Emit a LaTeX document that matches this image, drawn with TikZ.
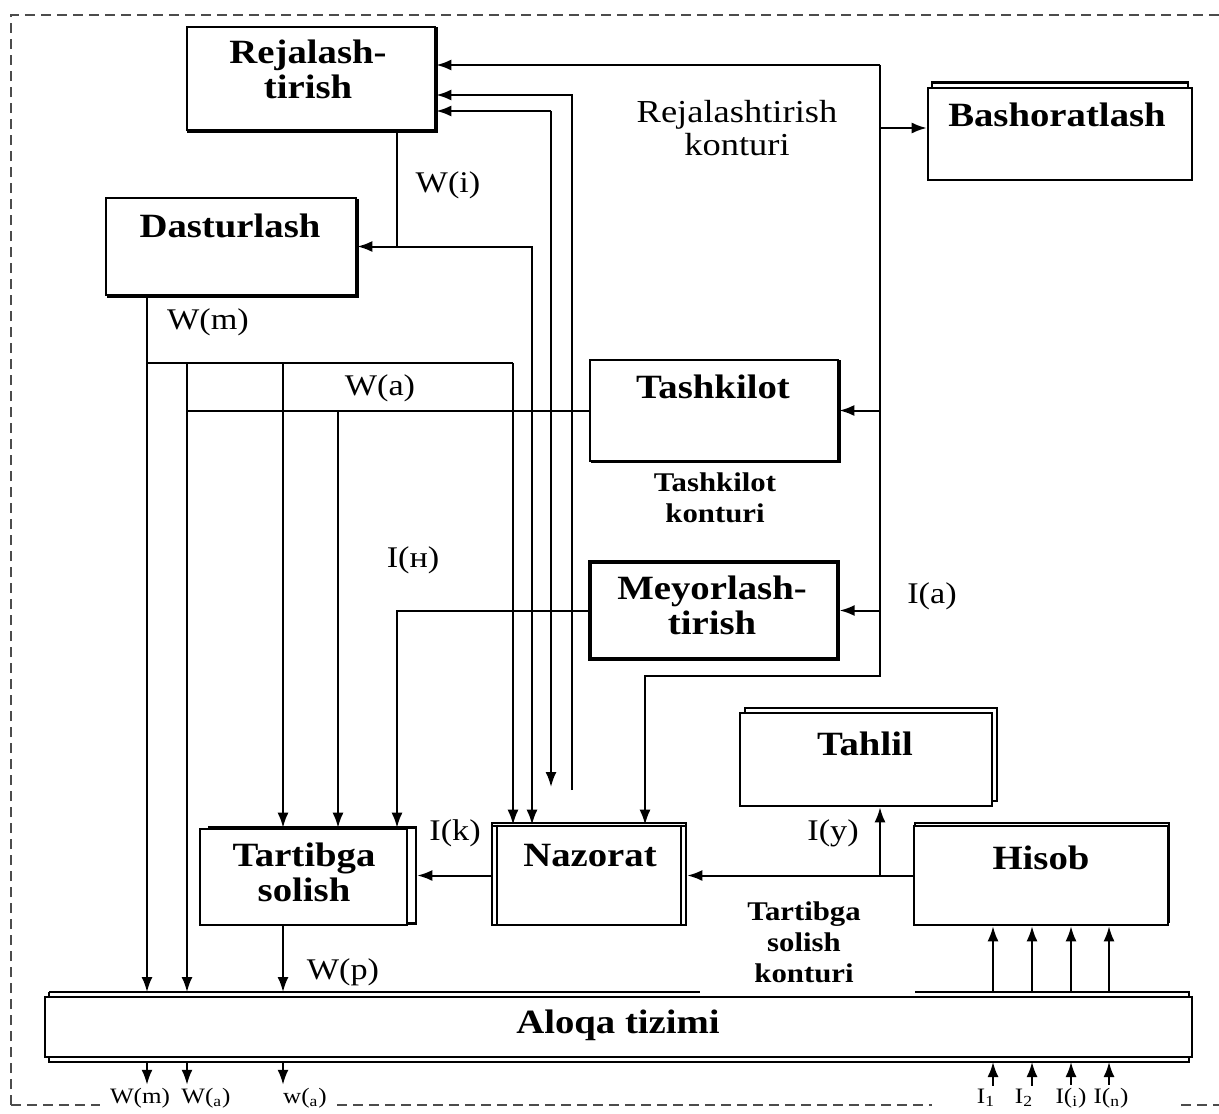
\documentclass[tikz,border=0pt]{standalone}
\usepackage{fontspec}
\setmainfont[FakeStretch=1.14]{Liberation Serif}
\usetikzlibrary{arrows.meta,shadows}

\tikzset{
  blok/.style={draw, line width=1.3pt, fill=white, inner sep=0pt},
  sarlavha/.style={font=\bfseries\fontsize{17}{17.5}\selectfont, align=center, inner sep=0pt},
  kontur/.style={font=\bfseries\fontsize{13.5}{15.5}\selectfont, align=center, inner sep=0pt},
  belgi/.style={font=\fontsize{15}{16.5}\selectfont, inner sep=1pt},
  kichik/.style={font=\fontsize{11}{12}\selectfont, inner sep=1pt, anchor=base},
  arr/.style={-{Latex[length=7.5pt,width=5.5pt]}},
  ramka/.style={draw=gray!60!black, line width=1pt, dash pattern=on 5pt off 3pt}
}

\begin{document}
\begin{tikzpicture}[x=0.5pt,y=-0.5pt,line width=1pt]
\useasboundingbox (0,0) rectangle (1219,1113);
% ramka
\draw[ramka] (11,1105) -- (11,15) -- (1219,15);
\draw[ramka] (11,1105) -- (100,1105) (337,1105) -- (932,1105) (1181,1105) -- (1219,1105);

% bloklar
\node[blok, copy shadow={shadow xshift=0.8pt, shadow yshift=-0.8pt}, minimum width=124pt, minimum height=51.5pt] (rej) at (311,78.5) {};
\node[blok, copy shadow={shadow xshift=0pt, shadow yshift=3.5pt, shadow scale=0.97}, minimum width=132pt, minimum height=46pt] (bash) at (1060,134) {};
\node[blok, copy shadow={shadow xshift=1pt, shadow yshift=-1pt}, minimum width=125pt, minimum height=48.5pt] (dast) at (231,246.5) {};
\node[blok, copy shadow={shadow xshift=1pt, shadow yshift=-0.5pt}, minimum width=124pt, minimum height=50.5pt] (tash) at (714,410.5) {};
\node[blok, line width=1.6pt, minimum width=124pt, minimum height=48.5pt] (meyo) at (714,610.5) {};
\node[blok, copy shadow={shadow xshift=2.5pt, shadow yshift=2.5pt}, minimum width=126pt, minimum height=46.5pt] (tahl) at (866,759.5) {};
\node[blok, copy shadow={shadow xshift=0.5pt, shadow yshift=1.5pt}, minimum width=127pt, minimum height=49.5pt] (hisob) at (1041,875.5) {};
\node[blok, copy shadow={shadow xshift=0pt, shadow yshift=1.5pt}, minimum width=97pt, minimum height=49.5pt] (naz) at (589,875.5) {};
\draw ([xshift=3pt]naz.north west) -- ([xshift=3pt]naz.south west);
\draw ([xshift=-3pt]naz.north east) -- ([xshift=-3pt]naz.south east);
\node[blok, copy shadow={shadow xshift=4.5pt, shadow yshift=0.75pt}, minimum width=103.5pt, minimum height=48pt] (tart) at (303.5,877) {};
\node[fill=white, inner sep=0pt, minimum width=569pt, minimum height=34pt] (aloqa-fon) at (619,1027) {};
\draw[line width=1.3pt] (aloqa-fon.north west) -- (aloqa-fon.north -| 700,0)
  (aloqa-fon.north -| 915,0) -- (aloqa-fon.north east) -- (aloqa-fon.south east)
  -- (aloqa-fon.south west) -- (aloqa-fon.north west);
\node[blok, minimum width=573.5pt, minimum height=30pt] (aloqa) at (618.5,1027) {};

% matnlar
\node[sarlavha] (rej-t) at (308,69.5) {Rejalash-\\tirish};
\node[sarlavha] (bash-t) at (1057,115) {Bashoratlash};
\node[sarlavha] (dast-t) at (230,226) {Dasturlash};
\node[sarlavha] (tash-t) at (713,387) {Tashkilot};
\node[sarlavha] (meyo-t) at (712,605) {Meyorlash-\\tirish};
\node[sarlavha] (tahl-t) at (865,744) {Tahlil};
\node[sarlavha] (hisob-t) at (1041,858) {Hisob};
\node[sarlavha] (naz-t) at (590,856) {Nazorat};
\node[sarlavha] (tart-t) at (304,872) {Tartibga\\solish};
\node[sarlavha] (aloqa-t) at (618,1025) {Aloqa tizimi};
\node[belgi, align=center, font=\fontsize{16}{16.5}\selectfont] (rej-k) at (737,128) {Rejalashtirish\\konturi};
\node[kontur] (tash-k) at (715,498) {Tashkilot\\konturi};
\node[kontur] (tart-k) at (804,942) {Tartibga\\solish\\konturi};

% belgilar
\node[belgi] (wi) at (448,185) {W(i)};
\node[belgi] (wm) at (208,322) {W(m)};
\node[belgi] (wa) at (380,388) {W(a)};
\node[belgi] (in) at (413,560) {I(н)};
\node[belgi] (ia) at (932,596) {I(a)};
\node[belgi] (ik) at (455,833) {I(k)};
\node[belgi] (iy) at (833,833) {I(y)};
\node[belgi] (wp) at (343,972) {W(p)};

% rejalashtirish konturi
\coordinate (k-yuqori) at (880,65);
\coordinate (k-past) at (880,676);
\draw[arr] (k-yuqori) -- (rej.east |- k-yuqori);
\draw[arr] (k-yuqori) -- (k-past) -| (naz.north -| 645,0);
\draw[arr] (880,128) -- (bash.west |- 0,128);
\draw[arr] (tash.east -| k-past) -- (tash.east);
\draw[arr] (meyo.east -| k-past) -- (meyo.east);

% W(i)
\draw[arr] (rej.south -| 397,0) |- (dast.east);
\draw[arr] (dast.east -| 397,0) -| (naz.north -| 532,0);

% qaytish
\coordinate (q1) at (572,790);
\coordinate (q2) at (551,787);
\draw[arr] (q1) |- (rej.east |- 0,95);
\draw[arr] (q2 |- 0,111) -- (q2);
\draw[arr] (q2 |- 0,111) -- (rej.east |- 0,111);

% W(m), W(a)
\draw[arr] (dast.south -| 147,0) -- (aloqa-fon.north -| 147,0);
\draw (147,363) -- (513,363);
\draw[arr] (513,363) -- (naz.north -| 513,0);
\draw[arr] (283,363) -- (tart.north -| 283,0);
\draw[arr] (187,363) -- (aloqa-fon.north -| 187,0);
\draw (tash.west) -- (tash.west -| 187,0);
\draw[arr] (338,0 |- tash.west) -- (tart.north -| 338,0);
\draw[arr] (meyo.west) -| (tart.north -| 397,0);

% tartibga solish konturi
\draw[arr] (naz.west) -- ([xshift=4.5pt]tart.east |- naz.west);
\draw[arr] (hisob.west) -- (naz.east);
\draw[arr] (hisob.west -| 880,0) -- (tahl.south -| 880,0);
\draw[arr] (tart.south -| 283,0) -- (aloqa-fon.north -| 283,0);
\foreach \x in {993,1032,1071,1109}
  \draw[arr] (aloqa-fon.north -| \x,0) -- (hisob.south -| \x,0);

% chiqish va kirishlar
\foreach \x/\lx/\t [count=\i] in {147/140/{W(m)}, 187/206/{W(\textsubscript{a})}, 283/305/{w(\textsubscript{a})}}{
  \node[kichik] (chq-\i) at (\lx,1103) {\t};
  \draw[arr] (aloqa-fon.south -| \x,0) -- (\x,0 |- chq-\i.north);
}
\foreach \x/\lx/\t [count=\i] in {993/986/{I\textsubscript{1}}, 1032/1024/{I\textsubscript{2}}, 1071/1071/{I(\textsubscript{i})}, 1109/1111/{I(\textsubscript{n})}}{
  \node[kichik] (kir-\i) at (\lx,1103) {\t};
  \draw[arr] (\x,0 |- kir-\i.north) -- (aloqa-fon.south -| \x,0);
}
\end{tikzpicture}
\end{document}
